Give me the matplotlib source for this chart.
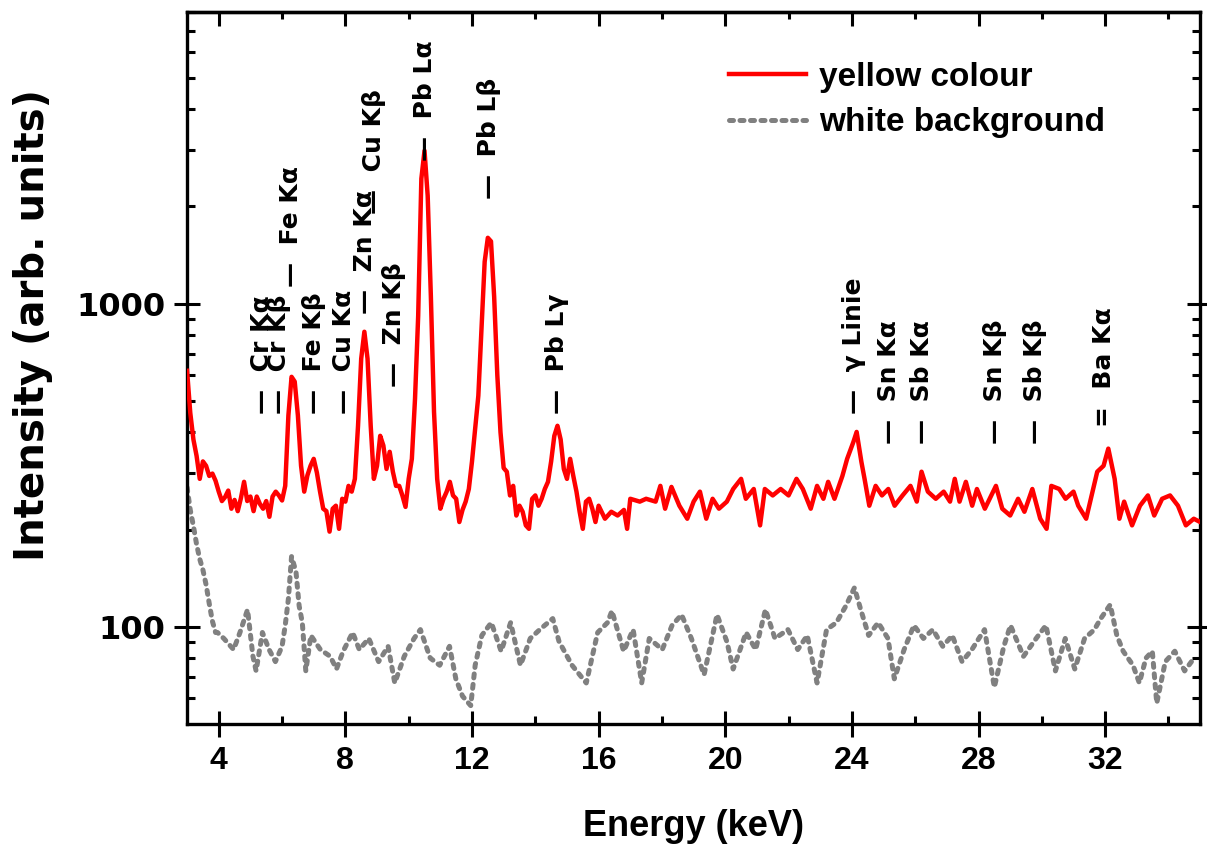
import numpy as np
import matplotlib
matplotlib.use('Agg')
import matplotlib.pyplot as plt
from matplotlib.ticker import FixedLocator, MultipleLocator, NullFormatter, FixedFormatter

plt.rcParams['font.family'] = ['Liberation Sans', 'DejaVu Sans']
plt.rcParams['font.weight'] = 'bold'
wide = ['DejaVu Sans']

# yellow colour spectrum (keV, counts)
energy_yellow = [3.0, 3.1, 3.2, 3.3, 3.4, 3.5, 3.6, 3.7, 3.8, 3.9,
                 4.0, 4.1, 4.2, 4.3, 4.4, 4.5, 4.6, 4.7, 4.8, 4.9,
                 5.0, 5.1, 5.2, 5.3, 5.4, 5.5, 5.6, 5.7, 5.8, 5.9,
                 6.0, 6.1, 6.2, 6.3, 6.4, 6.5, 6.6, 6.7, 6.8, 6.9,
                 7.0, 7.1, 7.2, 7.3, 7.4, 7.5, 7.6, 7.7, 7.8, 7.9,
                 8.0, 8.1, 8.2, 8.3, 8.4, 8.5, 8.6, 8.7, 8.8, 8.9,
                 9.0, 9.1, 9.2, 9.3, 9.4, 9.5, 9.6, 9.7, 9.8, 9.9,
                 10.0, 10.1, 10.2, 10.3, 10.4, 10.5, 10.6, 10.7, 10.8, 10.9,
                 11.0, 11.1, 11.2, 11.3, 11.4, 11.5, 11.6, 11.7, 11.8, 11.9,
                 12.0, 12.1, 12.2, 12.3, 12.4, 12.5, 12.6, 12.7, 12.8, 12.9,
                 13.0, 13.1, 13.2, 13.3, 13.4, 13.5, 13.6, 13.7, 13.8, 13.9,
                 14.0, 14.1, 14.2, 14.3, 14.4, 14.5, 14.6, 14.7, 14.8, 14.9,
                 15.0, 15.1, 15.2, 15.3, 15.4, 15.5, 15.6, 15.7, 15.8, 15.9,
                 16.0, 16.2, 16.4, 16.6, 16.8, 16.9, 17.0, 17.3, 17.5, 17.8,
                 17.95, 18.1, 18.3, 18.55, 18.8, 19.0, 19.2, 19.4, 19.6, 19.8,
                 20.05, 20.25, 20.5, 20.65, 20.9, 21.1, 21.25, 21.5, 21.75, 22.0,
                 22.25, 22.45, 22.7, 22.9, 23.1, 23.25, 23.45, 23.7, 23.85, 24.05,
                 24.15, 24.3, 24.4, 24.55, 24.75, 24.95, 25.15, 25.35, 25.6, 25.85,
                 26.05, 26.2, 26.4, 26.65, 26.9, 27.1, 27.25, 27.4, 27.6, 27.8,
                 27.95, 28.2, 28.55, 28.75, 29.0, 29.25, 29.45, 29.7, 29.95, 30.15,
                 30.3, 30.55, 30.75, 31.0, 31.15, 31.4, 31.6, 31.75, 31.95, 32.1,
                 32.3, 32.45, 32.6, 32.85, 33.1, 33.35, 33.55, 33.8, 34.05, 34.3,
                 34.55, 34.8, 35.0]
counts_yellow = [620, 460, 380, 338, 287, 325, 315, 293, 298, 283,
                 262, 245, 252, 264, 232, 247, 228, 250, 281, 245,
                 253, 228, 253, 240, 232, 245, 219, 253, 262, 255,
                 246, 273, 451, 594, 574, 451, 315, 262, 294, 315,
                 331, 300, 262, 232, 228, 197, 232, 237, 201, 249,
                 244, 273, 262, 287, 419, 676, 819, 676, 419, 287,
                 315, 390, 364, 308, 348, 302, 273, 273, 255, 235,
                 287, 331, 508, 918, 2438, 2977, 2159, 1059, 463, 287,
                 232, 249, 262, 281, 255, 249, 211, 230, 244, 267,
                 325, 410, 519, 837, 1349, 1600, 1560, 1050, 600, 400,
                 310, 302, 255, 273, 221, 237, 227, 206, 201, 249,
                 255, 237, 249, 267, 281, 325, 390, 419, 380, 308,
                 287, 331, 293, 262, 227, 201, 244, 249, 232, 211,
                 237, 216, 227, 221, 230, 201, 249, 244, 249, 244,
                 273, 232, 271, 237, 216, 244, 262, 216, 249, 232,
                 244, 267, 287, 249, 267, 206, 267, 255, 267, 255,
                 287, 267, 232, 273, 249, 281, 249, 293, 331, 374,
                 401, 324, 287, 237, 273, 255, 267, 237, 255, 273,
                 244, 302, 262, 249, 262, 244, 287, 244, 281, 237,
                 267, 232, 273, 232, 221, 249, 227, 267, 216, 201,
                 273, 267, 249, 262, 237, 216, 262, 302, 315, 356,
                 287, 216, 244, 206, 237, 255, 221, 249, 255, 237,
                 206, 216, 211]

# white background spectrum
energy_white = [3.0, 3.1, 3.2, 3.3, 3.4, 3.5, 3.6, 3.7, 3.8, 3.9,
                3.96, 4.16, 4.47, 4.67, 4.91, 5.08, 5.18, 5.38, 5.59, 5.79,
                6.0, 6.1, 6.2, 6.3, 6.44, 6.54, 6.64, 6.75, 6.91, 7.21,
                7.52, 7.72, 7.93, 8.23, 8.44, 8.74, 9.05, 9.35, 9.56, 9.86,
                10.17, 10.37, 10.68, 10.98, 11.29, 11.49, 11.7, 11.96, 12.1, 12.31,
                12.61, 12.92, 13.22, 13.53, 13.84, 14.14, 14.55, 14.75, 15.16, 15.61,
                15.97, 16.28, 16.42, 16.79, 17.09, 17.36, 17.6, 18.01, 18.32, 18.62,
                18.93, 19.33, 19.74, 20.05, 20.25, 20.66, 20.96, 21.27, 21.57, 21.98,
                22.29, 22.59, 22.9, 23.2, 23.51, 23.81, 24.08, 24.28, 24.53, 24.83,
                25.14, 25.34, 25.65, 25.96, 26.26, 26.56, 26.87, 27.17, 27.48, 27.79,
                28.19, 28.5, 28.8, 29.01, 29.42, 29.82, 30.13, 30.43, 30.74, 31.04,
                31.35, 31.66, 31.86, 32.16, 32.37, 32.57, 32.88, 33.08, 33.29, 33.49,
                33.63, 33.9, 34.2, 34.51, 34.81]
counts_white = [270, 230, 205, 180, 162, 150, 135, 118, 104, 96,
                96, 92, 85, 96, 113, 81, 73, 96, 85, 78,
                87, 101, 122, 165, 148, 116, 103, 73, 94, 85,
                81, 74, 84, 96, 85, 92, 78, 87, 67, 81,
                92, 98, 80, 76, 87, 69, 61, 57, 76, 94,
                103, 84, 103, 76, 92, 98, 106, 90, 76, 67,
                96, 103, 112, 84, 98, 67, 92, 85, 101, 109,
                92, 71, 109, 90, 74, 96, 85, 113, 92, 98,
                85, 94, 67, 98, 103, 116, 132, 113, 94, 103,
                92, 69, 85, 101, 92, 98, 87, 94, 78, 85,
                98, 65, 87, 101, 81, 92, 101, 73, 92, 74,
                92, 98, 106, 117, 94, 84, 76, 67, 80, 84,
                58, 78, 84, 73, 80]

# element lines marked in the picture
line_names = ['Cr Kα', 'Cr Kβ', 'Fe Kα', 'Fe Kβ', 'Cu Kα', 'Zn Kα', 'Cu Kβ',
              'Zn Kβ', 'Pb Lα', 'Pb Lβ', 'Pb Lγ', 'γ Linie', 'Sn Kα', 'Sb Kα',
              'Sn Kβ', 'Sb Kβ', 'Ba Kα']
line_energy = [5.37, 5.90, 6.28, 7.00, 7.95, 8.61, 8.90,
               9.53, 10.51, 12.55, 14.70, 24.06, 25.16, 26.23,
               28.53, 29.79, 31.97]
# where each marker starts (counts axis)
label_base = [456, 456, 1129, 456, 456, 931, 1900,
              553, 2773, 2113, 456, 456, 369, 369,
              369, 369, 416]

fig = plt.figure(figsize=(12.07, 8.46), dpi=100)
ax = fig.add_axes([0.155, 0.1442, 0.8393, 0.8416])

ax.plot(energy_yellow, counts_yellow, color='red', lw=3.2, label='yellow colour', zorder=3)
ax.plot(energy_white, counts_white, color='#808080', lw=3.6, ls=(0, (0.8, 1.3)),
        dash_capstyle='round', label='white background', zorder=2)

ax.set_yscale('log')
ax.set_xlim(3, 35)
ax.set_ylim(50, 8000)

ax.xaxis.set_major_locator(MultipleLocator(4))
ax.xaxis.set_minor_locator(MultipleLocator(2))
ax.yaxis.set_major_locator(FixedLocator([100, 1000]))
ax.yaxis.set_major_formatter(FixedFormatter(['100', '1000']))
minors = [60, 70, 80, 90] + [i * 100 for i in range(2, 10)] + [i * 1000 for i in range(2, 9)]
ax.yaxis.set_minor_locator(FixedLocator(minors))
ax.yaxis.set_minor_formatter(NullFormatter())

ax.tick_params(which='major', direction='inout', length=19, width=2.2,
               labelsize=23, right=True, top=False, pad=6)
ax.tick_params(which='minor', direction='in', length=6, width=2.2, right=True, top=False)
for lab in ax.get_xticklabels():
    lab.set_fontweight('bold')
for lab in ax.get_yticklabels():
    lab.set_fontweight('bold')
    lab.set_family(wide)

top = ax.secondary_xaxis('top')
top.xaxis.set_major_locator(MultipleLocator(4))
top.xaxis.set_minor_locator(MultipleLocator(2))
top.tick_params(which='major', direction='in', length=10, width=2.2, labeltop=False)
top.tick_params(which='minor', direction='in', length=5, width=2.2)

for s in ax.spines.values():
    s.set_linewidth(2.4)
top.spines['top'].set_linewidth(2.4)

ax.set_xlabel('Energy (keV)', fontsize=26, fontweight='bold', labelpad=24)
ax.set_ylabel('Intensity (arb. units)', fontsize=29, fontweight='bold', family=wide)
ax.yaxis.set_label_coords(-0.132, 0.56)

for name, e, b in zip(line_names, line_energy, label_base):
    mark = '=  ' if name == 'Ba Kα' else '—  '
    ax.text(e, b, mark + name, rotation=90, ha='center', va='bottom',
            fontsize=18, fontweight='bold', family=wide, zorder=4)

leg = ax.legend(loc='upper left', bbox_to_anchor=(0.535, 0.93), frameon=False,
                fontsize=24, handlelength=2.3, handletextpad=0.4, labelspacing=0.43,
                borderaxespad=0, borderpad=0)
for t in leg.get_texts():
    t.set_fontweight('bold')

fig.savefig('out.png', dpi=100)
